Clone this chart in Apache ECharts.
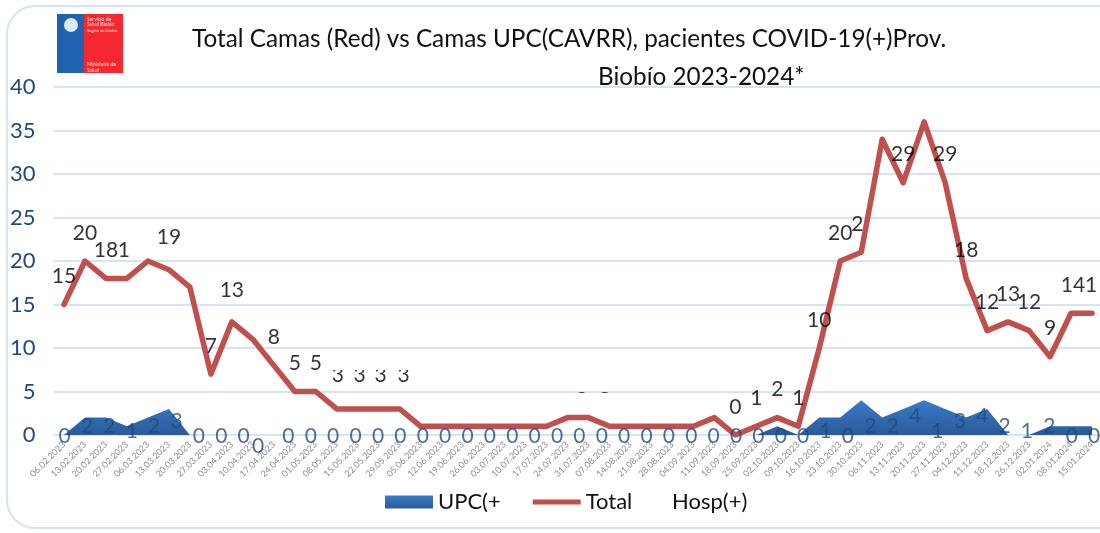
<!DOCTYPE html>
<html><head><meta charset="utf-8">
<style>html,body{margin:0;padding:0;background:#fff}#c{width:1100px;height:533px}</style>
<script src="https://cdn.jsdelivr.net/npm/echarts@6/dist/echarts.min.js"></script>
</head><body><div id="c"></div>
<script>
const categories = ["06.02.2023","13.02.2023","20.02.2023","27.02.2023","06.03.2023","13.03.2023","20.03.2023","27.03.2023","03.04.2023","10.04.2023","17.04.2023","24.04.2023","01.05.2023","08.05.2023","15.05.2023","22.05.2023","29.05.2023","05.06.2023","12.06.2023","19.06.2023","26.06.2023","03.07.2023","10.07.2023","17.07.2023","24.07.2023","31.07.2023","07.08.2023","14.08.2023","21.08.2023","28.08.2023","04.09.2023","11.09.2023","18.09.2023","25.09.2023","02.10.2023","09.10.2023","16.10.2023","23.10.2023","30.10.2023","06.11.2023","13.11.2023","20.11.2023","27.11.2023","04.12.2023","11.12.2023","18.12.2023","26.12.2023","02.01.2024","08.01.2024","15.01.2024"];
const total = [15,20,18,18,20,19,17,7,13,11,8,5,5,3,3,3,3,1,1,1,1,1,1,1,2,2,1,1,1,1,1,2,0,1,2,1,10,20,21,34,29,36,29,18,12,13,12,9,14,14];
const upc = [0,2,2,1,2,3,0,0,0,0,0,0,0,0,0,0,0,0,0,0,0,0,0,0,0,0,0,0,0,0,0,0,0,0,1,0,2,2,4,2,3,4,3,2,3,0,0,1,1,1];
const hospLabels = ["15","20","18","1","","19","","7","13","","8","5","5","3","3","3","3","","","","","","","","","2","2","","","","","","0","1","2","1","10","20","2","","29","","29","18","12","13","12","9","14","1"];
const upcLabels = [0,2,2,1,2,3,0,0,0,0,0,0,0,0,0,0,0,0,0,0,0,0,0,0,0,0,0,0,0,0,0,0,0,0,1,0,2,2,4,1,3,4,2,1,2,0,0];

const labelNudge = {3:[-3,0],5:[0,-4],8:[0,-4],13:[1,-6],14:[2,-6],15:[2,-6],16:[4,-6],25:[-7,11],26:[-5,2],38:[-4,0],48:[2,0],49:[-1,0]};
const upcNudge = {9:[-8,10]};
const FONT = 'Lato';
const blueGrad = new echarts.graphic.LinearGradient(0,0,0,1,[{offset:0,color:'#3A7BC8'},{offset:1,color:'#2A5A98'}]);

const chart = echarts.init(document.getElementById('c'), null, {renderer:'canvas'});
chart.setOption({
  animation:false,
  backgroundColor:'#fff',
  textStyle:{fontFamily:FONT},
  title:[
    {text:'Total Camas (Red) vs Camas UPC(CAVRR), pacientes COVID-19(+)Prov.',left:187,top:22,textStyle:{fontFamily:FONT,fontSize:24.3,fontWeight:'normal',color:'#111'}},
    {text:'Biobío 2023-2024*',left:593,top:60,textStyle:{fontFamily:FONT,fontSize:24.3,fontWeight:'normal',color:'#111'}}
  ],
  grid:{left:53.5,width:1049,top:87,height:348,containLabel:false,outerBoundsMode:'none'},
  legend:[
    {left:385,top:491,padding:0,itemWidth:48,itemHeight:13,itemGap:32,
     textStyle:{fontFamily:FONT,fontSize:22,color:'#111'},
     data:[
       {name:'UPC(+',icon:'rect',itemStyle:{color:blueGrad}},
       {name:'Total',icon:'path://M0 0H48V.01H0Z M0 4H48V9H0Z M0 13H48V13.01H0Z',itemStyle:{color:'#C0504D'}}
     ]},
    {left:666,top:491,padding:0,itemWidth:1,itemHeight:13,
     textStyle:{fontFamily:FONT,fontSize:22,color:'#111'},
     data:[{name:'Hosp(+)',icon:'rect',itemStyle:{color:'transparent'}}]}
  ],
  xAxis:[
    {type:'category',data:categories,boundaryGap:true,
     axisLine:{show:false},axisTick:{show:false},splitLine:{show:false},
     axisLabel:{interval:0,rotate:45,fontSize:9,color:'#8f8f8f',margin:8,fontFamily:FONT}},
    {type:'category',data:upcLabels.map((_,i)=>i),boundaryGap:true,show:false}
  ],
  yAxis:[
    {type:'value',min:0,max:40,interval:5,
     axisLine:{show:false},axisTick:{show:false},
     splitLine:{lineStyle:{color:'#D5E3F6',width:2}},
     axisLabel:{fontSize:22,color:'#1F497D',margin:18,fontFamily:FONT}},
    {type:'value',min:0,max:69.6,show:false}
  ],
  series:[
    {name:'UPC(+',type:'line',data:upc,symbol:'none',z:2,
     lineStyle:{width:0},
     itemStyle:{color:'#2F66AC'},
     areaStyle:{opacity:1,color:blueGrad}},
    {name:'Total',type:'line',data:total,symbol:'none',z:3,
     lineStyle:{color:'#C0504D',width:5.5,cap:'round',join:'round'},
     itemStyle:{color:'#C0504D'}},
    {name:'Hosp(+)',type:'scatter',z:5,symbolSize:1,
     itemStyle:{color:'transparent'},
     data:total.map((v,i)=>{
       const n=labelNudge[i]||[0,0];
       return {value:[i,v],label:{show:hospLabels[i]!=='',formatter:hospLabels[i],color:'#000',offset:[n[0],-28+n[1]]}};
     }),
     label:{position:'inside',fontSize:21,color:'#000',fontFamily:FONT}},
    {name:'upcLabelSeries',type:'scatter',xAxisIndex:1,yAxisIndex:1,z:4,symbolSize:1,
     itemStyle:{color:'transparent'},
     data:upcLabels.map((v,i)=>{
       const n=upcNudge[i]||[0,0];
       return {value:[i,v],label:{offset:[n[0]+i*0.06,1+n[1]]}};
     }),
     label:{show:true,position:'inside',fontSize:21,color:'#1F497D',fontFamily:FONT,formatter:p=>String(p.value[1])}}
  ],
  graphic:[
    {type:'rect',z:-1,shape:{x:7,y:6,width:1130,height:522,r:28},style:{fill:'none',stroke:'#D5E3F6',lineWidth:2}},
    {type:'rect',z:10,shape:{x:57,y:14,width:27,height:59},style:{fill:'#1F62AE'}},
    {type:'rect',z:10,shape:{x:84,y:14,width:39,height:59},style:{fill:'#F5282F'}},
    {type:'text',z:11,left:87,top:17,style:{text:'Servicio de\nSalud Biobío',fontSize:5,fill:'#ffe6e6',fontFamily:FONT,lineHeight:5}},
    {type:'text',z:11,left:87,top:29,style:{text:'Región del Biobío',fontSize:4,fill:'#ffe6e6',fontFamily:FONT}},
    {type:'text',z:11,left:87,top:61,style:{text:'Ministerio de\nSalud',fontSize:5,fill:'#ffe6e6',fontFamily:FONT,lineHeight:6}},
    {type:'circle',z:11,shape:{cx:71,cy:25,r:7},style:{fill:'#dfe9f5'}},
    {type:'rect',z:20,shape:{x:327,y:358,width:84,height:12},style:{fill:'#fff'}},
    {type:'rect',z:20,shape:{x:570,y:393,width:50,height:14},style:{fill:'#fff'}}
  ]
});
</script></body></html>
